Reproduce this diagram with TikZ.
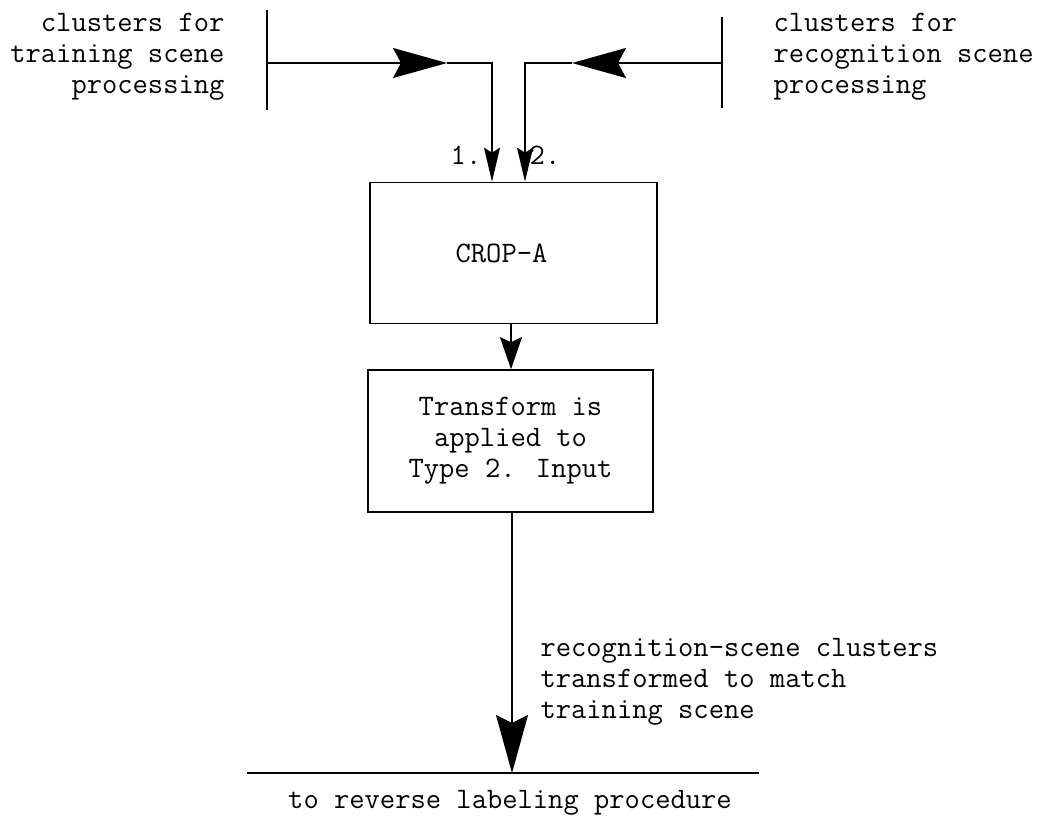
\documentclass[tikz,border=0pt]{standalone}
\usepackage{fontspec}
\usetikzlibrary{arrows.meta}
\begin{document}
\begin{tikzpicture}[x=1pt,y=-1pt,
  every node/.style={font=\ttfamily\fontsize{29.7}{31}\selectfont},
  box/.style={draw, line width=1.6pt, inner sep=0pt},
  line/.style={line width=1.6pt},
  bar/.style={line width=2.4pt},
  bigtip/.style={-{Stealth[length=54pt,width=30pt,inset=8pt]}},
  smalltip/.style={-{Stealth[length=34pt,width=16pt,inset=5pt]}},
  midtip/.style={-{Stealth[length=32pt,width=22pt,inset=5pt]}},
  endtip/.style={-{Stealth[length=58pt,width=32pt,inset=8pt]}}]
\useasboundingbox (0,0) rectangle (1043,819);

% boxes
\node[box, minimum width=287pt, minimum height=141pt,
      label={[xshift=-12pt]center:CROP-A}] (crop) at (513.5,253) {};
\node[box, minimum width=285pt, minimum height=142pt, align=center] (trans) at (510.5,441)
  {Transform is\\applied to\\Type 2. Input};

% input bars
\coordinate (lbt) at (267,10);
\coordinate (lbb) at (267,110);
\coordinate (lbm) at (267,63);
\coordinate (rbt) at (722,17);
\coordinate (rbb) at (722,108);
\coordinate (rbm) at (722,63);
\draw[bar] (lbt) -- (lbb);
\draw[bar] (rbt) -- (rbb);

\coordinate (ltip) at (447,63);
\coordinate (lc) at (492,63);
\coordinate (rtip) at (572,63);
\coordinate (rc) at (525,63);

\draw[line, bigtip] (lbm) -- (ltip);
\draw[line, smalltip] (ltip) -- (lc) -- (lc |- crop.north);
\draw[line, bigtip] (rbm) -- (rtip);
\draw[line, smalltip] (rtip) -- (rc) -- (rc |- crop.north);

% labels at top
\node[anchor=east, align=right] (ltxt) at (228,57) {clusters for\\training scene\\processing};
\node[anchor=west, align=left] (rtxt) at (770,57) {clusters for\\recognition scene\\processing};
\node (n1) at (466,155) {1.};
\node (n2) at (545,155) {2.};

% crop -> transform
\coordinate (mx) at (511,0);
\draw[line, midtip] (crop.south -| mx) -- (trans.north -| mx);

% transform -> output line
\coordinate (bl) at (247,773);
\coordinate (br) at (759,773);
\coordinate (bt) at (512,773);
\draw[line] (bl) -- (br);
\draw[line, endtip] (trans.south -| bt) -- (bt);

\node[anchor=west, align=left] (side) at (537,682)
  {recognition-scene clusters\\transformed to match\\training scene};
\node (bottxt) at (510,803) {to reverse labeling procedure};
\end{tikzpicture}
\end{document}
